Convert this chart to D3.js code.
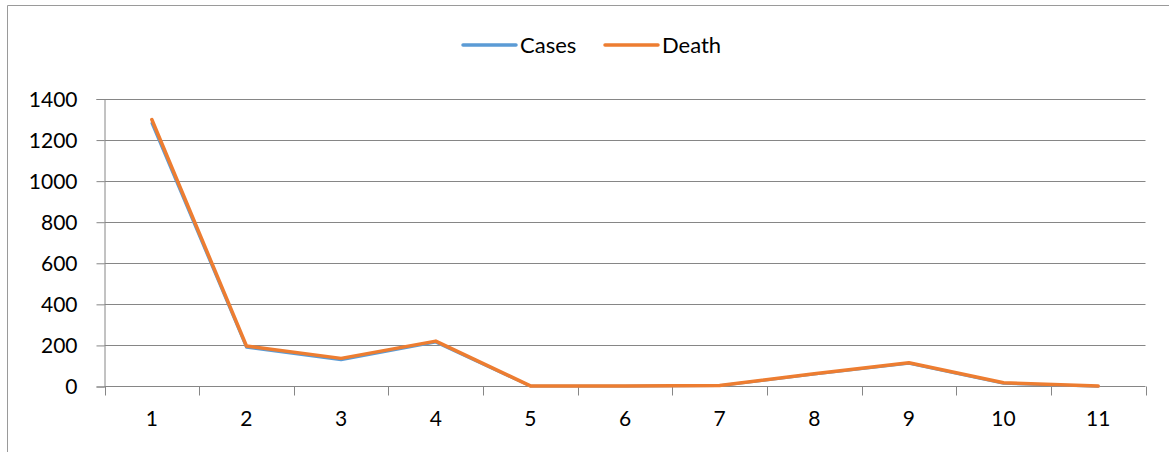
<!DOCTYPE html>
<html>
<head>
<meta charset="utf-8">
<script src="https://cdn.jsdelivr.net/npm/d3@7"></script>
<style>
  html, body { margin: 0; padding: 0; background: #fff; }
  svg { display: block; }
  text { font-family: Lato, "Liberation Sans", sans-serif; fill: #000; }
</style>
</head>
<body>
<svg id="chart" width="1169" height="452"></svg>
<script>
// Data
const categories = ["1", "2", "3", "4", "5", "6", "7", "8", "9", "10", "11"];
const cases = [1282, 190, 130, 216, 2, 2, 4, 60, 112, 15, 1];
const death = [1300, 197, 137, 221, 3, 3, 5, 62, 116, 18, 2];
const yTicks = [0, 200, 400, 600, 800, 1000, 1200, 1400];
const seriesNames = ["Cases", "Death"];
const seriesColors = ["#5B9BD5", "#ED7D31"];

const W = 1169, H = 452;
const margin = { left: 104.5, right: 1145.5, top: 99, bottom: 386.5 };

const svg = d3.select("#chart");

// Outer frame (top and left edges visible)
svg.append("line").attr("x1", 7.5).attr("x2", W).attr("y1", 5.5).attr("y2", 5.5)
  .attr("stroke", "#9a9a9a").attr("stroke-width", 1);
svg.append("line").attr("x1", 7.5).attr("x2", 7.5).attr("y1", 5.5).attr("y2", H)
  .attr("stroke", "#9a9a9a").attr("stroke-width", 1);

const x = d3.scaleBand().domain(categories).range([margin.left, margin.right]);
const y = d3.scaleLinear().domain([0, 1400]).range([margin.bottom, margin.top]);

// Horizontal gridlines
svg.append("g").selectAll("line").data(yTicks.filter(d => d > 0)).join("line")
  .attr("x1", margin.left).attr("x2", margin.right)
  .attr("y1", d => Math.round(y(d)) + 0.5).attr("y2", d => Math.round(y(d)) + 0.5)
  .attr("stroke", "#868686").attr("stroke-width", 1);

// Y axis
const yAxis = svg.append("g").attr("transform", `translate(${margin.left},0)`)
  .call(d3.axisLeft(y).tickValues(yTicks).tickSize(8).tickPadding(19).tickFormat(d3.format("d")));
yAxis.select(".domain").attr("stroke", "#868686");
yAxis.selectAll(".tick line").attr("stroke", "#868686");
yAxis.selectAll(".tick text").style("font-size", "21px").attr("dy", "0.35em");

// X axis with ticks at band boundaries
const xAxis = svg.append("g").attr("transform", `translate(0,${margin.bottom})`)
  .call(d3.axisBottom(x).tickSize(0).tickPadding(25));
xAxis.select(".domain").attr("stroke", "#868686").attr("d", `M${margin.left},0H${margin.right}`);
xAxis.selectAll(".tick text").style("font-size", "21px");
const bounds = categories.map(c => x(c)).concat([margin.right]);
xAxis.append("g").selectAll("line").data(bounds).join("line")
  .attr("x1", d => Math.round(d) + 0.5).attr("x2", d => Math.round(d) + 0.5)
  .attr("y1", 0).attr("y2", 9).attr("stroke", "#868686");

// Series lines
const line = d3.line().x((d, i) => x(categories[i]) + x.bandwidth() / 2).y(d => y(d));
[cases, death].forEach((vals, k) => {
  svg.append("path").datum(vals)
    .attr("fill", "none")
    .attr("stroke", seriesColors[k])
    .attr("stroke-width", k === 0 ? 2.75 : 3.5)
    .attr("stroke-linejoin", "round")
    .attr("stroke-linecap", "round")
    .attr("d", line);
});

// Legend
const legendItems = [
  { name: seriesNames[0], color: seriesColors[0], x0: 463 },
  { name: seriesNames[1], color: seriesColors[1], x0: 605 }
];
const lg = svg.append("g");
legendItems.forEach(it => {
  lg.append("line").attr("x1", it.x0).attr("x2", it.x0 + 53).attr("y1", 45).attr("y2", 45)
    .attr("stroke", it.color).attr("stroke-width", 3.5).attr("stroke-linecap", "round");
  lg.append("text").attr("x", it.x0 + 57).attr("y", 45).attr("dy", "0.35em")
    .style("font-size", "22px").text(it.name);
});
</script>
</body>
</html>
